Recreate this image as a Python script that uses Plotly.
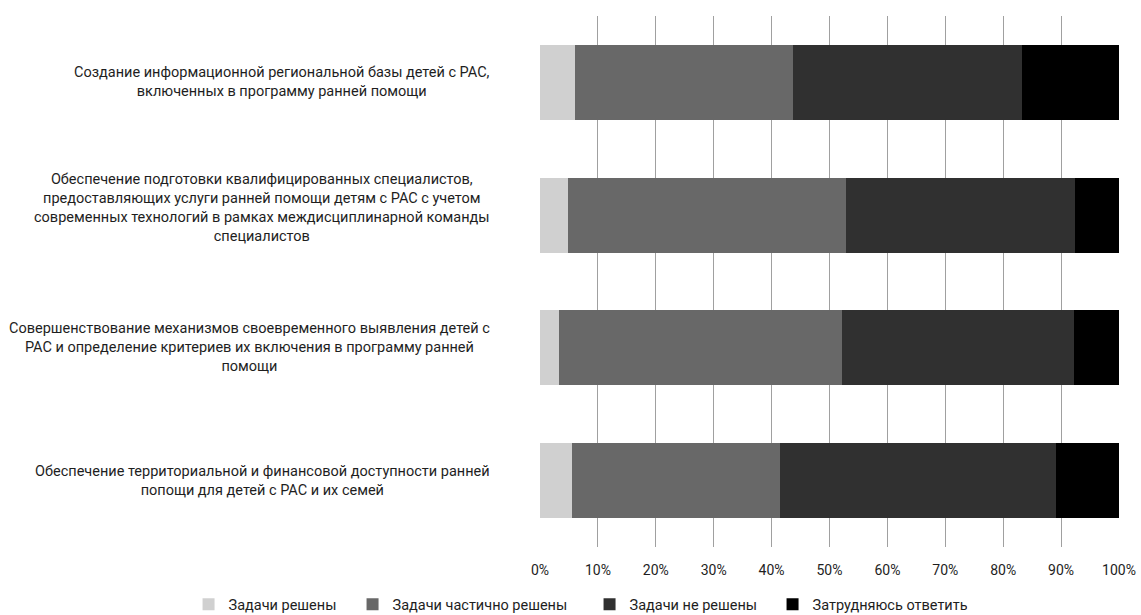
import plotly.graph_objects as go

categories = [
    "Создание информационной региональной базы детей с РАС,<br>включенных в программу ранней помощи",
    "Обеспечение подготовки квалифицированных специалистов,<br>предоставляющих услуги ранней помощи детям с РАС с учетом<br>современных технологий в рамках междисциплинарной команды<br>специалистов",
    "Совершенствование механизмов своевременного выявления детей с<br>РАС и определение критериев их включения в программу ранней<br>помощи",
    "Обеспечение территориальной и финансовой доступности ранней<br>попощи для детей с РАС и их семей",
]
cat_ids = ["c1", "c2", "c3", "c4"]

series_names = ["Задачи решены", "Задачи частично решены", "Задачи не решены", "Затрудняюсь ответить"]
solved = [6.1, 4.8, 3.3, 5.6]
partly = [37.6, 48.1, 48.9, 35.8]
not_solved = [39.6, 39.5, 40.0, 47.8]
hard = [16.7, 7.6, 7.8, 10.8]
colors = ["#d0d0d0", "#686868", "#303030", "#000000"]

tick_vals = [0, 10, 20, 30, 40, 50, 60, 70, 80, 90, 100]
tick_text = [f"{v}%" for v in tick_vals]

FONT = "Roboto"
legend_widths = [119, 192, 138, 150]

fig = go.Figure()
for name, vals, col, lw in zip(series_names, [solved, partly, not_solved, hard], colors, legend_widths):
    fig.add_trace(go.Bar(
        y=cat_ids, x=vals, name=name, orientation="h",
        marker=dict(color=col, line=dict(width=0)),
        legendwidth=lw,
    ))

for cid, label in zip(cat_ids, categories):
    n_lines = label.count("<br>") + 1
    fig.add_annotation(
        x=0, xref="paper", y=cid, yref="y", text=label, showarrow=False,
        xanchor="right", xshift=-48, yshift=(7 if n_lines > 3 else 0), align="center",
        font=dict(family=FONT, size=14.5, color="#1e1e1e"),
    )

fig.update_layout(
    barmode="stack", bargap=0.436,
    width=1141, height=615,
    margin=dict(l=540, r=22, t=16, b=68, autoexpand=False),
    plot_bgcolor="white", paper_bgcolor="white",
    font=dict(family=FONT, size=14, color="#1e1e1e"),
    showlegend=True,
    legend=dict(
        orientation="h", xref="paper", yref="paper",
        x=-0.607, xanchor="left", y=-0.078, yanchor="top",
        font=dict(family=FONT, size=14.5, color="#1e1e1e"),
        traceorder="normal", itemwidth=30,
        tracegroupgap=0,
    ),
    xaxis=dict(
        range=[0, 100], tickvals=tick_vals, ticktext=tick_text,
        showgrid=True, gridcolor="#a0a0a0", gridwidth=1,
        zeroline=False, showline=False, ticks="", ticklabelstandoff=13,
        tickfont=dict(family=FONT, size=14, color="#1e1e1e"),
        fixedrange=True,
    ),
    yaxis=dict(
        categoryorder="array", categoryarray=cat_ids, autorange="reversed",
        showticklabels=False, showgrid=False, zeroline=False, showline=False, ticks="",
        fixedrange=True,
    ),
)

fig.write_html("out.html")
